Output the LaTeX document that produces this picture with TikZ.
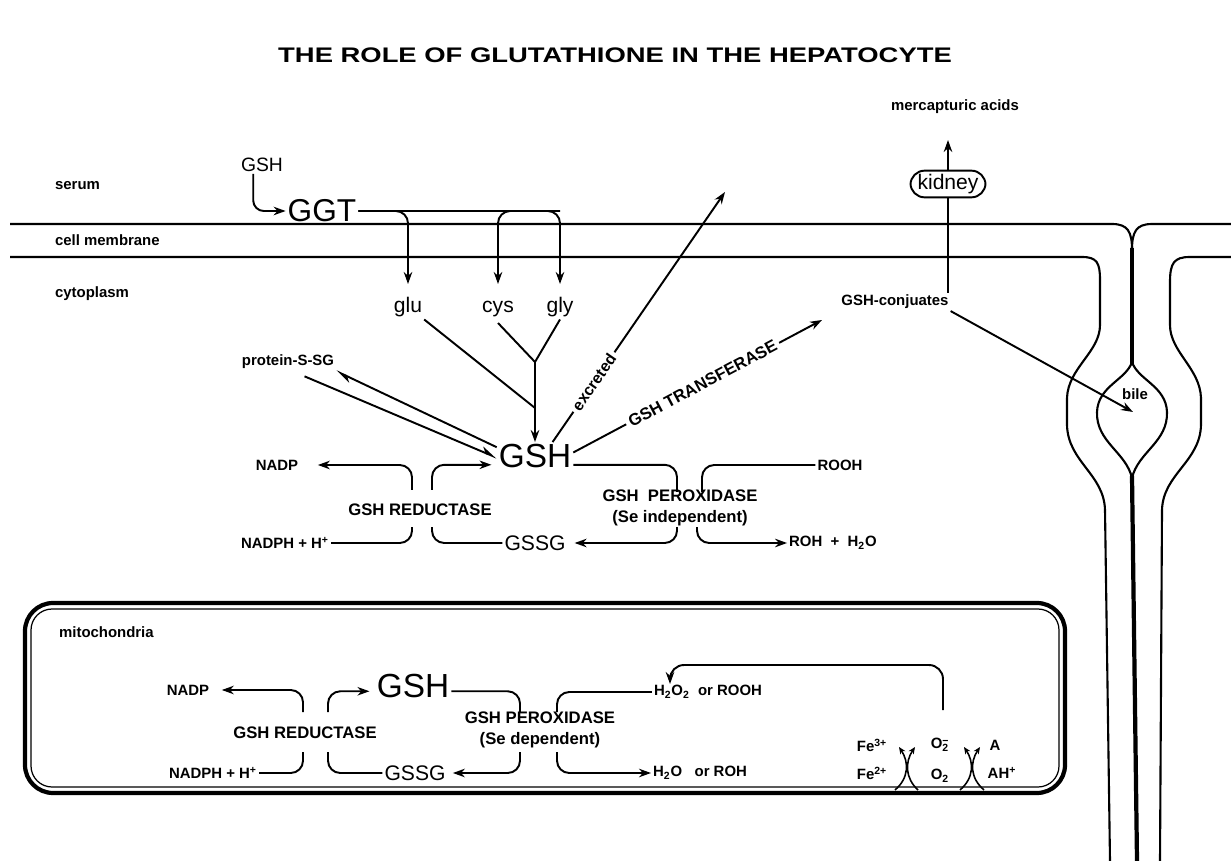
\documentclass[tikz,border=0pt]{standalone}
\usepackage{fontspec}
\setmainfont{Liberation Sans}
\usetikzlibrary{arrows.meta}
\tikzset{
  lbl/.style={font=\bfseries\fontsize{8.5}{10}\selectfont, inner sep=1pt},
  enz/.style={font=\bfseries\fontsize{9.5}{11.5}\selectfont, inner sep=1pt, align=center},
  mol/.style={font=\fontsize{12}{14}\selectfont, inner sep=1pt},
  big/.style={font=\fontsize{19}{22}\selectfont, inner sep=1pt},
  conn/.style={line width=1.1pt},
  arr/.style={line width=1.1pt, -{Stealth[length=2.4mm, width=1.7mm]}},
  sarr/.style={line width=0.9pt, -{Stealth[length=1.4mm, width=1.2mm]}},
  harp/.style={line width=1.1pt, -{Stealth[harpoon, length=2.8mm, width=2mm]}},
  memb/.style={line width=1.2pt},
  junc/.style={line width=2.4pt}
}

\begin{document}
\begin{tikzpicture}[x=0.02cm, y=-0.02cm]
\useasboundingbox (0,0) rectangle (1231,861);

% title and side labels
\node[font=\bfseries\fontsize{12}{14}\selectfont] (title) at (615,55)
  {\scalebox{1.3}[1]{THE ROLE OF GLUTATHIONE IN THE HEPATOCYTE}};
\node[lbl, anchor=west] (serum) at (53,186) {serum};
\node[lbl, anchor=west] (cellm) at (53,240) {cell membrane};
\node[lbl, anchor=west] (cyto) at (53,294) {cytoplasm};

% membranes and bile canaliculus
\draw[memb] (10,224) -- (1112,224) .. controls (1128,224) and (1132,232) .. (1132,250);
\draw[memb] (1231,224) -- (1152,224) .. controls (1136,224) and (1132,232) .. (1132,250);
\draw[junc] (1132,248) -- (1132,364);
\draw[memb] (1132,362) .. controls (1126,380) and (1098,386) .. (1097,412)
  .. controls (1096,442) and (1126,452) .. (1132,478);
\draw[memb] (1132,362) .. controls (1138,380) and (1166,386) .. (1167,412)
  .. controls (1168,442) and (1138,452) .. (1132,478);
\draw[junc] (1132,476) -- (1137,861);
\draw[memb] (10,257) -- (1082,257) .. controls (1097,257) and (1100,263) .. (1100,280)
  -- (1100,325) .. controls (1100,352) and (1068,368) .. (1067,398) -- (1067,425)
  .. controls (1068,462) and (1104,474) .. (1105,510) -- (1110,861);
\draw[memb] (1231,257) -- (1190,257) .. controls (1174,257) and (1170,263) .. (1170,282)
  -- (1170,325) .. controls (1170,352) and (1200,368) .. (1201,398) -- (1201,425)
  .. controls (1200,462) and (1163,474) .. (1162,510) -- (1160,861);

% serum side
\node[mol, font=\fontsize{11}{13}\selectfont] (gshs) at (262,165) {GSH};
\node[font=\fontsize{18}{20}\selectfont, inner sep=1pt] (ggt) at (322,211) {GGT};
\draw[arr, rounded corners=6pt] ([xshift=-5pt]gshs.south) |- (ggt.west);

\node[mol, anchor=base] (glu) at (408,313) {glu};
\node[mol, anchor=base] (cys) at (498,313) {cys};
\node[mol, anchor=base] (gly) at (560,313) {gly};
\coordinate (gluin) at (408,284);
\coordinate (cysin) at (498,284);
\coordinate (glyin) at (560,284);
\draw[arr, rounded corners=7pt] (ggt.east) -| (gluin);
\draw[arr, rounded corners=7pt] (ggt.east) -| (glyin);
\draw[arr, rounded corners=7pt] (glyin |- ggt.east) -| (cysin);

% glutathione synthesis
\node[big] (gsh) at (535,456) {GSH};
\coordinate (yj) at (535,362);
\coordinate (gj) at (535,408);
\draw[conn] ([yshift=-2pt]cys.south) -- (yj);
\draw[conn] (gly.south) -- (yj);
\draw[conn] (glu.south east) -- (gj);
\draw[arr] (yj) -- (gsh.north);

\node[lbl] (prot) at (288,362) {protein-S-SG};
\draw[harp] ([yshift=5pt]gsh.west) -- (prot.south east);
\draw[harp] ([xshift=-18pt,yshift=-3pt]prot.south east) -- ([yshift=-1pt]gsh.west);

% export
\node[lbl] (merc) at (955,107) {mercapturic acids};
\node[mol, draw, line width=1.1pt, rounded corners=8pt, inner xsep=4pt, inner ysep=2pt] (kidney) at (948,184) {kidney};
\node[lbl] (conj) at (895,302) {GSH-conjuates};
\node[lbl] (bile) at (1135,394) {bile};
\coordinate (mercin) at (948,140);
\coordinate (excout) at (725,192);
\coordinate (conjin) at (822,320);
\coordinate (bilein) at (1133,412);
\draw[arr] ([xshift=10pt]gsh.north) -- node[lbl, font=\bfseries\fontsize{9}{10}\selectfont, sloped, fill=white, pos=0.24, inner sep=2pt] {excreted} (excout);
\draw[arr] ([yshift=2pt]gsh.east) -- node[lbl, font=\bfseries\fontsize{9.5}{10}\selectfont, sloped, fill=white, pos=0.52, inner sep=2pt] {GSH TRANSFERASE} (conjin);
\draw[conn] (kidney.south |- conj.north) -- (kidney.south);
\draw[arr] (kidney.north) -- (mercin);
\draw[arr] (conj.south east) -- (bilein);

% cytoplasmic cycle
\node[lbl] (nadp) at (277,465) {NADP};
\node[lbl] (nadph) at (285,543) {NADPH + H\textsuperscript{+}};
\node[enz] (red) at (420,510) {GSH REDUCTASE};
\node[mol] (gssg) at (535,543) {GSSG};
\node[enz] (perox) at (680,508) {GSH \ PEROXIDASE\\(Se independent)};
\node[lbl] (rooh) at (840,465) {ROOH};
\node[lbl] (roh) at (833,543) {ROH \ + \ H\textsubscript{2}O};
\coordinate (rlt) at (412,490);
\coordinate (rlb) at (412,527);
\coordinate (rrt) at (432,490);
\coordinate (rrb) at (432,527);
\coordinate (plt) at (677,492);
\coordinate (prt) at (702,492);
\coordinate (plb) at (677,527);
\coordinate (prb) at (697,527);
\draw[arr, rounded corners=7pt] (rlt) |- ([xshift=10pt]nadp.east);
\draw[conn, rounded corners=7pt] (rlb) |- (nadph.east);
\draw[arr, rounded corners=7pt] (rrt) |- ([xshift=-3pt,yshift=-5pt]gsh.west);
\draw[conn, rounded corners=7pt] (rrb) |- (gssg.west);
\draw[conn, rounded corners=7pt] ([yshift=-5pt]gsh.east) -| (plt);
\draw[conn, rounded corners=7pt] (rooh.west) -| (prt);
\draw[arr, rounded corners=7pt] (plb) |- ([xshift=4pt]gssg.east);
\draw[arr, rounded corners=7pt] (prb) |- (roh.west);

% mitochondria
\draw[line width=2.4pt, rounded corners=16pt] (25,603) rectangle (1065,793);
\draw[line width=0.7pt, rounded corners=12pt] (31,609) rectangle (1059,787);
\node[lbl, anchor=west] (mito) at (57,632) {mitochondria};
\node[lbl] (mnadp) at (188,690) {NADP};
\node[big] (mgsh) at (413,686) {GSH};
\node[lbl] (mnadph) at (213,773) {NADPH + H\textsuperscript{+}};
\node[mol] (mgssg) at (415,773) {GSSG};
\node[enz] (mred) at (305,733) {GSH REDUCTASE};
\node[enz] (mperox) at (540,730) {GSH PEROXIDASE\\(Se dependent)};
\node[lbl] (mh2o2) at (708,692) {H\textsubscript{2}O\textsubscript{2} \ or ROOH};
\node[lbl] (mh2o) at (700,773) {H\textsubscript{2}O \ \ or ROH};
\coordinate (mrlt) at (303,712);
\coordinate (mrlb) at (303,752);
\coordinate (mrrt) at (328,712);
\coordinate (mrrb) at (328,752);
\coordinate (mplt) at (520,712);
\coordinate (mprt) at (557,712);
\coordinate (mplb) at (520,752);
\coordinate (mprb) at (557,752);
\draw[arr, rounded corners=7pt] (mrlt) |- ([xshift=6pt]mnadp.east);
\draw[conn, rounded corners=7pt] (mrlb) |- (mnadph.east);
\draw[arr, rounded corners=7pt] (mrrt) |- ([xshift=-3pt,yshift=-3pt]mgsh.west);
\draw[conn, rounded corners=7pt] (mrrb) |- (mgssg.west);
\draw[conn, rounded corners=7pt] ([yshift=-3pt]mgsh.east) -| (mplt);
\draw[conn, rounded corners=7pt] (mh2o2.west) -| (mprt);
\draw[arr, rounded corners=7pt] (mplb) |- ([xshift=3pt]mgssg.east);
\draw[arr, rounded corners=7pt] (mprb) |- (mh2o.west);

% radicals
\node[lbl] (fe3) at (872,745) {Fe\textsuperscript{3+}};
\node[lbl] (fe2) at (872,773) {Fe\textsuperscript{2+}};
\node[lbl] (o2m) at (940,745) {O\rlap{\textsuperscript{−}}\textsubscript{2}};
\node[lbl] (o2) at (940,776) {O\textsubscript{2}};
\node[lbl] (aa) at (995,745) {A};
\node[lbl] (ah) at (1002,773) {AH\textsuperscript{+}};
\coordinate (fbst) at (943,710);
\coordinate (fbtop) at (943,665);
\coordinate (fbin) at (670,684);
\draw[arr, rounded corners=8pt] (fbst) -- (fbtop) -| (fbin);
\coordinate (fe2up) at (895,790);
\coordinate (fe3dn) at (899,747);
\coordinate (o2lup) at (918,790);
\coordinate (o2ldn) at (915,747);
\coordinate (o2rup) at (960,790);
\coordinate (o2rdn) at (964,747);
\coordinate (ahup) at (984,790);
\coordinate (aadn) at (980,747);
\draw[sarr] (fe2up) .. controls (909,778) and (909,762) .. (fe3dn);
\draw[sarr] (o2lup) .. controls (905,778) and (905,762) .. (o2ldn);
\draw[sarr] (o2rup) .. controls (974,778) and (974,762) .. (o2rdn);
\draw[sarr] (ahup) .. controls (970,778) and (970,762) .. (aadn);
\end{tikzpicture}
\end{document}
